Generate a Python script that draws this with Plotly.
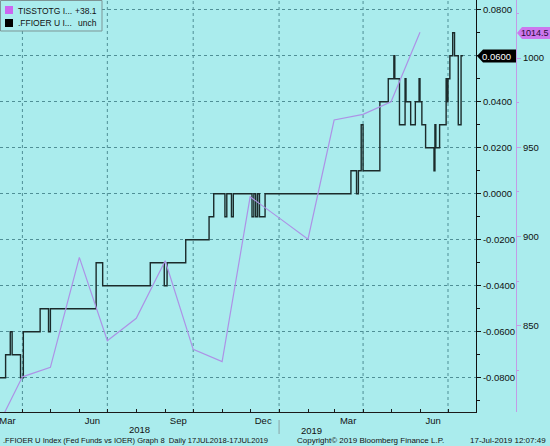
import plotly.graph_objects as go

# ---------------- data ----------------
# TISSTOTG Index (monthly, right-most purple axis)
tiss_dates = ["2018-03-01", "2018-04-01", "2018-05-01", "2018-06-01", "2018-07-01",
              "2018-08-01", "2018-09-01", "2018-10-01", "2018-11-01", "2018-12-01",
              "2019-01-01", "2019-02-01", "2019-03-01", "2019-04-01", "2019-05-01",
              "2019-06-01"]
tiss_vals = [789.0, 821.5, 826.8, 888.4, 841.7,
             854.3, 886.5, 836.9, 830.0, 922.3,
             910.5, 898.6, 965.3, 968.5, 975.5,
             1014.5]

# .FFIOER U Index (Fed Funds minus IOER), dates where the level changes
ff_dates = ["2018-03-08", "2018-03-14", "2018-03-19", "2018-03-21", "2018-03-30",
            "2018-04-02", "2018-04-20", "2018-04-29", "2018-05-01", "2018-06-19",
            "2018-06-26", "2018-08-16", "2018-08-31", "2018-09-03", "2018-09-23",
            "2018-10-18", "2018-10-23", "2018-11-04", "2018-11-06", "2018-11-11",
            "2018-11-13", "2018-12-03", "2018-12-05", "2018-12-07", "2018-12-09",
            "2018-12-11", "2018-12-17", "2019-03-19", "2019-03-25", "2019-03-27",
            "2019-03-30", "2019-04-01", "2019-04-19", "2019-04-28", "2019-05-04",
            "2019-05-05", "2019-05-10", "2019-05-16", "2019-05-17", "2019-05-22",
            "2019-05-27", "2019-05-31", "2019-06-01", "2019-06-03", "2019-06-07",
            "2019-06-16", "2019-06-17", "2019-06-18", "2019-06-22", "2019-06-29",
            "2019-06-30", "2019-07-01", "2019-07-03", "2019-07-06", "2019-07-08",
            "2019-07-12", "2019-07-15", "2019-07-17"]
ff_vals = [-0.08, -0.07, -0.06, -0.07, -0.08,
           -0.06, -0.05, -0.06, -0.05, -0.03,
           -0.04, -0.03, -0.04, -0.03, -0.02,
           -0.01, 0.00, -0.01, 0.00, -0.01,
           0.00, -0.01, 0.00, -0.01, 0.00,
           -0.01, 0.00, 0.01, 0.00, 0.01,
           0.03, 0.01, 0.04, 0.05, 0.06,
           0.05, 0.03, 0.05, 0.04, 0.03,
           0.04, 0.05, 0.04, 0.03, 0.02,
           0.01, 0.03, 0.02, 0.03, 0.05,
           0.04, 0.05, 0.06, 0.07, 0.06,
           0.03, 0.06, 0.06]

ff_ticks = [-0.08, -0.06, -0.04, -0.02, 0.0, 0.02, 0.04, 0.06, 0.08]
ff_tick_text = ["-0.0800", "-0.0600", "-0.0400", "-0.0200", "0.0000",
                "0.0200", "0.0400", "0.0600", "0.0800"]
tiss_ticks = [850, 900, 950, 1000]

month_label_dates = ["2018-03-16", "2018-06-15", "2018-09-15", "2018-12-15",
                     "2019-03-16", "2019-06-15"]
month_labels = ["Mar", "Jun", "Sep", "Dec", "Mar", "Jun"]
year_labels = ["2018", "2019"]
quarter_grid = ["2018-04-01", "2018-07-01", "2018-10-01", "2019-01-01",
                "2019-04-01", "2019-07-01"]
month_starts = ["2018-04-01", "2018-05-01", "2018-06-01", "2018-07-01", "2018-08-01",
                "2018-09-01", "2018-10-01", "2018-11-01", "2018-12-01", "2019-01-01",
                "2019-02-01", "2019-03-01", "2019-04-01", "2019-05-01", "2019-06-01",
                "2019-07-01"]

legend_names = ["TISSTOTG I...", ".FFIOER U I..."]
legend_changes = ["+38.1", "unch"]
last_ff_label = "0.0600"
last_tiss_label = "1014.5"
footer_left = ".FFIOER U Index (Fed Funds vs IOER) Graph 8  Daily 17JUL2018-17JUL2019"
footer_mid = "Copyright\u00a9 2019 Bloomberg Finance L.P."
footer_right = "17-Jul-2019 12:07:49"

# ---------------- style / layout ----------------
W, H = 550, 446
PLOT_R = 476
PLOT_B = 412
BG = "#aaeced"
GRID = "#4f8f96"
PURPLE_LINE = "#ad92e6"
PURPLE_AXIS = "#c39be6"
PURPLE_BOX = "#cc77ee"
BLACK_LINE = "#1b2b2b"
FONT = "Liberation Sans"


def px(x):
    return x / W


def py(y):
    return (PLOT_B - y) / PLOT_B


fig = go.Figure()
fig.add_trace(go.Scatter(x=ff_dates, y=ff_vals, mode="lines", yaxis="y",
                         line=dict(color=BLACK_LINE, width=1.4, shape="hv"),
                         showlegend=False, hoverinfo="skip"))
fig.add_trace(go.Scatter(x=tiss_dates, y=tiss_vals, mode="lines", yaxis="y2",
                         line=dict(color=PURPLE_LINE, width=1.2),
                         showlegend=False, hoverinfo="skip"))

shapes = []
for d in quarter_grid:
    shapes.append(dict(type="line", xref="x", yref="paper", x0=d, x1=d, y0=0, y1=1,
                       line=dict(color=GRID, width=1, dash="dot"), layer="below"))
# year divider under the axis
shapes.append(dict(type="line", xref="x", yref="paper", x0="2019-01-01", x1="2019-01-01",
                   y0=py(420), y1=py(434), line=dict(color="#8aa3a5", width=1)))
# legend box
shapes.append(dict(type="rect", xref="paper", yref="paper", x0=px(0.5), x1=px(102),
                   y0=py(31), y1=py(0.5), fillcolor=BG,
                   line=dict(color="#7d9596", width=1), layer="above"))
shapes.append(dict(type="rect", xref="paper", yref="paper", x0=px(5), x1=px(13),
                   y0=py(14), y1=py(6), fillcolor="#cc66f0", line=dict(width=0), layer="above"))
shapes.append(dict(type="rect", xref="paper", yref="paper", x0=px(5), x1=px(13),
                   y0=py(27), y1=py(19), fillcolor="#000000", line=dict(width=0), layer="above"))


def pointer(x0, x1, yc, h, tip):
    pts = [(x0, yc), (x0 + tip, yc - h / 2), (x1, yc - h / 2), (x1, yc + h / 2), (x0 + tip, yc + h / 2)]
    return "M " + " L ".join(f"{px(a):.5f},{py(b):.5f}" for a, b in pts) + " Z"


shapes.append(dict(type="path", xref="paper", yref="paper",
                   path=pointer(477, 516, 56, 13, 6), fillcolor="#000000", line=dict(width=0)))
shapes.append(dict(type="path", xref="paper", yref="paper",
                   path=pointer(517, 550, 33, 12, 5), fillcolor=PURPLE_BOX, line=dict(width=0)))

ann = []


def text(x, y, s, size=9, anchor="left", color="#111111"):
    ann.append(dict(x=px(x), y=py(y), xref="paper", yref="paper",
                    text=s, showarrow=False, xanchor=anchor, yanchor="middle",
                    font=dict(family=FONT, size=size, color=color)))


text(16, 11, legend_names[0], 8.5)
text(99, 11, legend_changes[0], 8.5, anchor="right")
text(16, 23, legend_names[1], 8.5)
text(99, 23, legend_changes[1], 8.5, anchor="right")
text(496, 56, last_ff_label, 9.5, anchor="center", color="#ffffff")
text(535, 33, last_tiss_label, 9, anchor="center", color="#2a0a3a")
text(139, 429, year_labels[0], 9.5, anchor="center")
text(311, 430, year_labels[1], 9.5, anchor="center")
text(1, 440, footer_left, 7.6)
text(370, 440, footer_mid, 8, anchor="center")
text(548, 440, footer_right, 8, anchor="right")

fig.update_layout(
    width=W, height=H,
    margin=dict(l=0, r=0, t=0, b=H - PLOT_B),
    paper_bgcolor=BG, plot_bgcolor=BG,
    font=dict(family=FONT, size=9.5, color="#111111"),
    showlegend=False,
    xaxis=dict(domain=[0, PLOT_R / W], type="date", range=["2018-03-08", "2019-07-31"],
               tickmode="array", tickvals=month_label_dates, ticktext=month_labels,
               ticks="", showgrid=False, zeroline=False, ticklabeloverflow="allow",
               showline=True, linecolor="#1a1a1a", linewidth=1,
               tickfont=dict(size=9.5), automargin=False,
               minor=dict(tickmode="array", tickvals=month_starts, ticks="inside",
                          ticklen=3, tickcolor="#1a1a1a", showgrid=False)),
    yaxis=dict(side="right", anchor="x", range=[-0.09487, 0.08426],
               tickmode="array", tickvals=ff_ticks, ticktext=ff_tick_text,
               ticks="outside", ticklen=4, tickcolor="#111111", automargin=False,
               showline=True, linecolor="#111111", linewidth=1,
               showgrid=True, gridcolor=GRID, griddash="dot", gridwidth=1,
               zeroline=False,
               minor=dict(tickmode="array",
                          tickvals=[-0.09, -0.07, -0.05, -0.03, -0.01, 0.01, 0.03, 0.05, 0.07],
                          ticks="outside", ticklen=3, tickcolor="#111111", showgrid=False)),
    yaxis2=dict(overlaying="y", side="right", anchor="free", position=516 / W,
                range=[801.8, 1032.5], tickmode="array", tickvals=tiss_ticks,
                ticks="outside", ticklen=4, tickcolor=PURPLE_AXIS, automargin=False,
                showline=True, linecolor=PURPLE_AXIS, linewidth=1,
                showgrid=False, zeroline=False,
                minor=dict(tickmode="array", tickvals=[825, 875, 925, 975, 1025],
                           ticks="outside", ticklen=2, tickcolor=PURPLE_AXIS, showgrid=False)),
    shapes=shapes,
    annotations=ann,
)

fig.write_html("out.html", config={"displayModeBar": False},
               post_script="document.body.style.margin='0';document.body.style.padding='0';")
